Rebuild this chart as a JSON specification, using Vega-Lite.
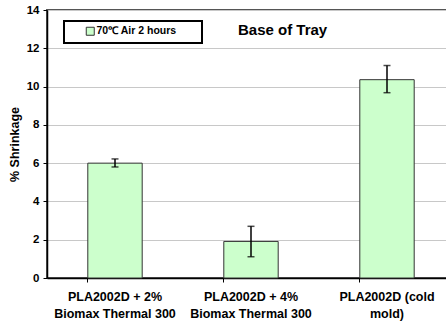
{
  "$schema": "https://vega.github.io/schema/vega-lite/v6.json",
  "width": 408,
  "height": 268,
  "autosize": {"type": "none"},
  "padding": {"left": 47, "top": 10, "right": 0, "bottom": 45},
  "background": "white",
  "title": {
    "text": "Base of Tray",
    "anchor": "start",
    "frame": "group",
    "dx": 191,
    "offset": -27,
    "dy": 14,
    "baseline": "middle",
    "font": "Liberation Sans",
    "fontSize": 15,
    "fontWeight": "bold",
    "color": "black"
  },
  "data": {
    "values": [
      {"sample": "PLA2002D + 2%|Biomax Thermal 300", "shrinkage": 6.0, "lo": 5.8, "hi": 6.22, "condition": "70℃ Air 2 hours"},
      {"sample": "PLA2002D + 4%|Biomax Thermal 300", "shrinkage": 1.91, "lo": 1.11, "hi": 2.7, "condition": "70℃ Air 2 hours"},
      {"sample": "PLA2002D (cold|mold)", "shrinkage": 10.36, "lo": 9.68, "hi": 11.1, "condition": "70℃ Air 2 hours"}
    ]
  },
  "encoding": {
    "x": {
      "field": "sample",
      "type": "nominal",
      "sort": null,
      "title": null,
      "scale": {"paddingInner": 0.6, "paddingOuter": 0.3},
      "axis": {
        "labelAngle": 0,
        "labelExpr": "split(datum.value, '|')",
        "labelFont": "Liberation Sans",
        "labelFontSize": 12.5,
        "labelFontWeight": "bold",
        "labelColor": "black",
        "labelLineHeight": 17,
        "labelPadding": 8,
        "labelBaseline": "top",
        "bandPosition": 0,
        "tickColor": "black",
        "tickSize": 4,
        "domainColor": "black",
        "domainWidth": 1.5,
        "grid": false
      }
    }
  },
  "layer": [
    {
      "mark": {"type": "bar", "stroke": "#333333", "strokeWidth": 1},
      "encoding": {
        "y": {
          "field": "shrinkage",
          "type": "quantitative",
          "title": "% Shrinkage",
          "scale": {"domain": [0, 14], "nice": false}
        },
        "fill": {
          "field": "condition",
          "type": "nominal",
          "scale": {"range": ["#ccffcc"]},
          "legend": {
            "title": null,
            "orient": "none",
            "legendX": 17,
            "legendY": 11,
            "symbolType": "square",
            "symbolSize": 64,
            "symbolStrokeColor": "#333333",
            "symbolStrokeWidth": 1,
            "symbolOffset": 16,
            "labelExpr": "datum.label + '       \u200b'",
            "labelFont": "Liberation Sans",
            "labelFontSize": 10.5,
            "labelFontWeight": "bold",
            "labelColor": "black",
            "labelOffset": 1,
            "padding": 5,
            "strokeColor": "black",
            "fillColor": "white"
          }
        }
      }
    },
    {
      "mark": {"type": "rule", "color": "black", "strokeWidth": 1.5},
      "encoding": {
        "y": {"field": "lo", "type": "quantitative"},
        "y2": {"field": "hi"}
      }
    },
    {
      "mark": {"type": "tick", "color": "black", "thickness": 1.5, "size": 7},
      "encoding": {"y": {"field": "lo", "type": "quantitative"}}
    },
    {
      "mark": {"type": "tick", "color": "black", "thickness": 1.5, "size": 7},
      "encoding": {"y": {"field": "hi", "type": "quantitative"}}
    }
  ],
  "config": {
    "view": {"stroke": "#555555", "strokeWidth": 2},
    "legend": {"strokeWidth": 2},
    "axisY": {
      "values": [0, 2, 4, 6, 8, 10, 12, 14],
      "labelFont": "Liberation Sans",
      "labelFontSize": 11.5,
      "labelFontWeight": "bold",
      "labelColor": "black",
      "labelPadding": 4,
      "labelOverlap": false,
      "tickColor": "black",
      "tickSize": 4,
      "domainColor": "black",
      "domainWidth": 1.5,
      "gridColor": "#c8c8c8",
      "titleFont": "Liberation Sans",
      "titleFontSize": 12.5,
      "titleFontWeight": "bold",
      "titleColor": "black",
      "titlePadding": 5
    }
  }
}
